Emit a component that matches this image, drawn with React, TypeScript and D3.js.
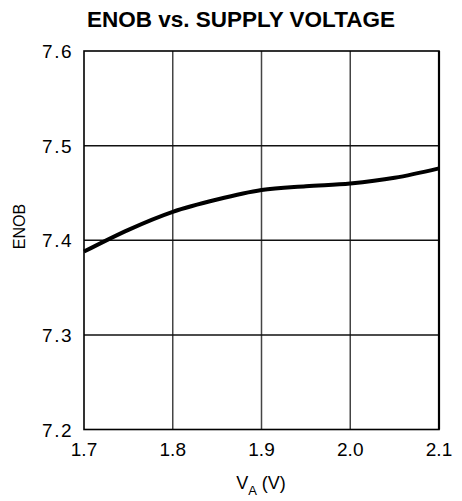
import { useEffect, useRef } from "react";
import * as d3 from "d3";

const supplyVolts = [1.7, 1.75, 1.8, 1.85, 1.9, 1.95, 2.0, 2.05, 2.1];
const enobValues = [7.388, 7.411, 7.43, 7.443, 7.453, 7.457, 7.46, 7.466, 7.476];
const xTicks = [1.7, 1.8, 1.9, 2.0, 2.1];
const yTicks = [7.2, 7.3, 7.4, 7.5, 7.6];

const W = 462;
const H = 501;
const margin = { top: 51, right: 23, bottom: 71.5, left: 84 };

export default function App() {
  const svgRef = useRef<SVGSVGElement>(null);

  useEffect(() => {
    if (!svgRef.current) return;
    const svg = d3.select(svgRef.current);
    svg.selectAll("*").remove();

    const x = d3.scaleLinear().domain([1.7, 2.1]).range([margin.left, W - margin.right]);
    const y = d3.scaleLinear().domain([7.2, 7.6]).range([H - margin.bottom, margin.top]);
    const font = "'Liberation Sans', Arial, sans-serif";

    // title
    svg.append("text")
      .attr("x", 241)
      .attr("y", 26.5)
      .attr("text-anchor", "middle")
      .style("font-family", font)
      .style("font-weight", "bold")
      .style("font-size", "22.5px")
      .text("ENOB vs. SUPPLY VOLTAGE");

    // grid
    svg.append("g").selectAll("line")
      .data(xTicks.slice(1, -1))
      .join("line")
      .attr("x1", (d) => x(d)).attr("x2", (d) => x(d))
      .attr("y1", y(7.6)).attr("y2", y(7.2))
      .attr("stroke", "#444")
      .attr("stroke-width", 1.5);

    svg.append("g").selectAll("line")
      .data(yTicks.slice(1, -1))
      .join("line")
      .attr("x1", x(1.7)).attr("x2", x(2.1))
      .attr("y1", (d) => y(d)).attr("y2", (d) => y(d))
      .attr("stroke", "#111")
      .attr("stroke-width", 1.5);

    // frame
    svg.append("rect")
      .attr("x", x(1.7)).attr("y", y(7.6))
      .attr("width", x(2.1) - x(1.7))
      .attr("height", y(7.2) - y(7.6))
      .attr("fill", "none")
      .attr("stroke", "#000")
      .attr("stroke-width", 1.6);
    svg.append("line")
      .attr("x1", x(2.1)).attr("x2", x(2.1))
      .attr("y1", y(7.6)).attr("y2", y(7.2))
      .attr("stroke", "#000")
      .attr("stroke-width", 2.2);

    // curve
    const line = d3.line<number>()
      .x((_, i) => x(supplyVolts[i]))
      .y((d) => y(d))
      .curve(d3.curveMonotoneX);
    svg.append("path")
      .datum(enobValues)
      .attr("d", line)
      .attr("fill", "none")
      .attr("stroke", "#000")
      .attr("stroke-width", 4);

    // tick labels
    svg.append("g").selectAll("text")
      .data(xTicks)
      .join("text")
      .attr("x", (d) => x(d))
      .attr("y", 456)
      .attr("text-anchor", "middle")
      .style("font-family", font)
      .style("font-size", "19px")
      .text((d) => d.toFixed(1));

    svg.append("g").selectAll("text")
      .data(yTicks)
      .join("text")
      .attr("x", 73)
      .attr("y", (d) => y(d) + 7)
      .attr("text-anchor", "end")
      .style("font-family", font)
      .style("font-size", "19px")
      .style("letter-spacing", "1.5px")
      .text((d) => d.toFixed(1));

    // axis titles
    const xl = svg.append("text")
      .attr("x", 261)
      .attr("y", 488.5)
      .attr("text-anchor", "middle")
      .style("font-family", font)
      .style("font-size", "18px");
    xl.append("tspan").text("V");
    xl.append("tspan").attr("dy", 6).style("font-size", "13px").text("A");
    xl.append("tspan").attr("dy", -6).text(" (V)");

    svg.append("text")
      .attr("transform", "translate(25,226.5) rotate(-90)")
      .attr("text-anchor", "middle")
      .style("font-family", font)
      .style("font-size", "16px")
      .text("ENOB");
  }, []);

  return (
    <svg
      ref={svgRef}
      width={W}
      height={H}
      style={{ position: "absolute", left: 0, top: 0, background: "#fff" }}
    />
  );
}
